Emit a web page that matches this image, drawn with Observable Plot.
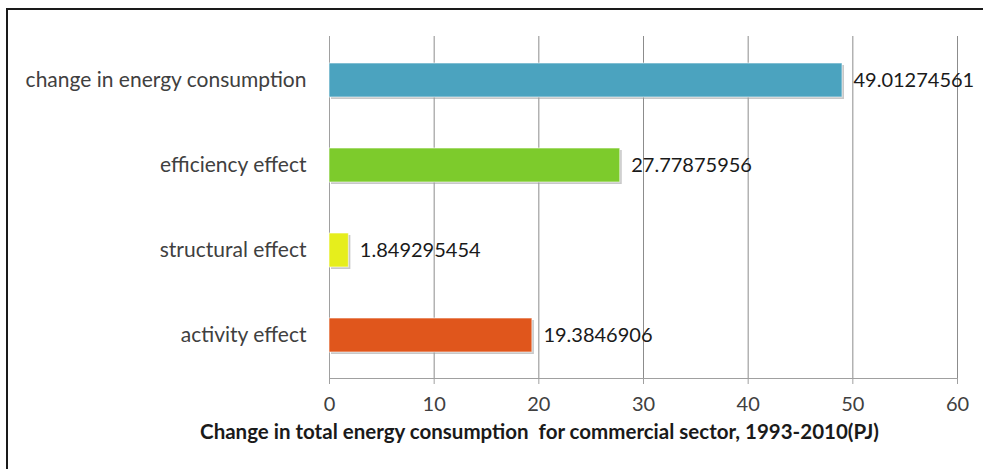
<!DOCTYPE html>
<html>
<head>
<meta charset="utf-8">
<script src="https://cdn.jsdelivr.net/npm/d3@7"></script>
<script src="https://cdn.jsdelivr.net/npm/@observablehq/plot@0.6"></script>
<style>
  html, body { margin: 0; padding: 0; background: #fff; }
  #wrap { position: relative; width: 983px; height: 469px; overflow: hidden; }
  #frame { position: absolute; left: 6px; top: 8px; width: 1100px; height: 600px;
           border-left: 2px solid #1a1a1a; border-top: 2px solid #1a1a1a; }
  #chart { position: absolute; left: 0; top: 0; }
</style>
</head>
<body>
<div id="wrap"><div id="frame"></div><div id="chart"></div></div>
<script>
const categories = ["change in energy consumption", "efficiency effect", "structural effect", "activity effect"];
const values = [49.01274561, 27.77875956, 1.849295454, 19.3846906];
const valueLabels = ["49.01274561", "27.77875956", "1.849295454", "19.3846906"];
const colors = ["#4ba3bf", "#7dcb2c", "#e6ee1c", "#e0561c"];
const xTicks = [0, 10, 20, 30, 40, 50, 60];
const xTitle = "Change in total energy consumption  for commercial sector, 1993-2010(PJ)";

const data = categories.map((c, i) => ({cat: c, value: values[i], label: valueLabels[i], color: colors[i]}));

const chart = Plot.plot({
  width: 983,
  height: 469,
  marginLeft: 329,
  marginRight: 26,
  marginTop: 36,
  marginBottom: 91,
  style: {fontFamily: "Lato, sans-serif", background: "transparent", overflow: "visible"},
  x: {domain: [0, 60], ticks: xTicks},
  y: {domain: categories, paddingInner: 0.6, paddingOuter: 0.3},
  color: {type: "identity"},
  marks: [
    Plot.gridX(xTicks, {stroke: "#8c8c8c", strokeOpacity: 1, strokeWidth: 1}),
    Plot.frame({anchor: "bottom", stroke: "#a0a0a0"}),
    Plot.ruleX([0], {stroke: "#a0a0a0"}),
    Plot.barX(data, {x: "value", y: "cat", fill: "#9a9a9a", fillOpacity: 0.55, dx: 2, dy: 2}),
    Plot.barX(data, {x: "value", y: "cat", fill: "color", stroke: "#ffffff", strokeOpacity: 0.6, strokeWidth: 1}),
    Plot.text(data, {x: "value", y: "cat", text: "label", dx: 11, textAnchor: "start", fontSize: 20, fill: "#1a1a1a"}),
    Plot.axisX({ticks: xTicks, tickSize: 6, tickPadding: 12, fontSize: 20, stroke: "#a0a0a0", color: "#404040", label: null}),
    Plot.axisY({tickSize: 0, tickPadding: 23, fontSize: 21, color: "#404040", label: null}),
    Plot.text([xTitle], {frameAnchor: "bottom", dx: -104, dy: 60, fontSize: 20.5, fontWeight: "bold", fill: "#1a1a1a"})
  ]
});
document.getElementById("chart").appendChild(chart);
</script>
</body>
</html>
